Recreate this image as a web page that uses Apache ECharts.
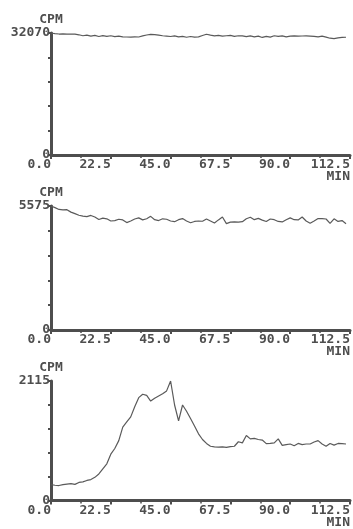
<!DOCTYPE html>
<html>
<head>
<meta charset="utf-8">
<script src="https://cdn.jsdelivr.net/npm/echarts@6/dist/echarts.min.js"></script>
<style>
  html, body { margin: 0; padding: 0; background: #fff; }
  #chart { width: 353px; height: 529px; }
</style>
</head>
<body>
<div id="chart"></div>
<script>
// sample times, minutes
const minutes = [
  0, 1.5, 3, 4.5, 6, 7.5, 9, 10.5, 12, 13.5, 15, 16.5, 18, 19.5, 21,
  22.5, 24, 25.5, 27, 28.5, 30, 31.5, 33, 34.5, 36, 37.5, 39, 40.5, 42, 43.5,
  45, 46.5, 48, 49.5, 51, 52.5, 54, 55.5, 57, 58.5, 60, 61.5, 63, 64.5, 66,
  67.5, 69, 70.5, 72, 73.5, 75, 76.5, 78, 79.5, 81, 82.5, 84, 85.5, 87, 88.5,
  90, 91.5, 93, 94.5, 96, 97.5, 99, 100.5, 102, 103.5, 105, 106.5, 108, 109.5, 111
];

// counts per minute, one list per panel
const cpmTop = [
  32070, 31900, 31800, 31820, 31780, 31800, 31750, 31600, 31350, 31500, 31250, 31450, 31150, 31400, 31200,
  31350, 31100, 31250, 31050, 31020, 31000, 31050, 31020, 31300, 31550, 31700, 31650, 31500, 31350, 31250,
  31150, 31300, 31050, 31200, 30950, 31150, 31000, 31050, 31400, 31750, 31500, 31300, 31450, 31250, 31350,
  31450, 31200, 31350, 31300, 31100, 31300, 31050, 31250, 30900, 31200, 31000, 31350, 31200, 31300, 31050,
  31250, 31300, 31250, 31280, 31300, 31250, 31200, 31050, 31250, 31000, 30700, 30600, 30800, 30900, 30950
];
const cpmMid = [
  5575, 5500, 5420, 5400, 5410, 5300, 5230, 5160, 5120, 5100, 5150, 5080, 4970, 5030, 5000,
  4900, 4920, 4980, 4950, 4830, 4900, 4990, 5040, 4950, 5000, 5110, 4960, 4920, 5000, 4980,
  4900, 4870, 4960, 5010, 4900, 4820, 4880, 4900, 4890, 4990, 4900, 4810, 4950, 5080, 4780,
  4850, 4860, 4850, 4870, 5000, 5070, 4960, 5020, 4940, 4880, 4990, 4960, 4880, 4860, 4960,
  5040, 4960, 4950, 5080, 4900, 4800, 4900, 5010, 5010, 4990, 4790, 5000, 4880, 4920, 4780
];
const cpmLow = [
  280, 270, 265, 280, 290, 300, 285, 320, 330, 355, 370, 410, 470, 560, 650,
  820, 920, 1060, 1300, 1390, 1480, 1660, 1820, 1880, 1860, 1760, 1810, 1850, 1890, 1940,
  2115, 1690, 1410, 1690, 1580, 1450, 1320, 1180, 1080, 1010, 960, 950, 945, 950, 940,
  955, 960, 1040, 1020, 1150, 1090, 1100, 1080, 1070, 1006, 1010, 1020, 1090, 976, 990,
  1000, 970, 1010, 990, 1000, 1000, 1035, 1060, 1000, 959, 1010, 980, 1010, 1006, 1000
];

const yMax = [32070, 5575, 2115];
const xTickLabels = ['0.0', '22.5', '45.0', '67.5', '90.0', '112.5'];
const panels = [cpmTop, cpmMid, cpmLow];

const ink = '#4e4e4e';
const font = { fontFamily: 'DejaVu Sans Mono', fontSize: 13, fontWeight: 'bold', color: ink };
const gridTops = [33, 206, 381];
const gridHeights = [122, 124, 122];

const chart = echarts.init(document.getElementById('chart'), null, { renderer: 'canvas' });

chart.setOption({
  backgroundColor: '#ffffff',
  animation: false,
  grid: gridTops.map((top, k) => ({ left: 51, right: 2, top: top, height: gridHeights[k] })),
  xAxis: panels.map((_, k) => ({
    gridIndex: k,
    type: 'value',
    min: 0,
    max: 112.5,
    interval: 22.5,
    axisLine: { show: true, lineStyle: { color: ink, width: 3 } },
    axisTick: { show: true, length: 4, lineStyle: { color: ink, width: 2 } },
    minorTick: { show: true, splitNumber: 2, length: 3, lineStyle: { color: ink, width: 1.5 } },
    splitLine: { show: false },
    axisLabel: {
      ...font,
      align: 'right',
      margin: 4,
      lineHeight: 12,
      formatter: (v, i) => (i === xTickLabels.length - 1 ? xTickLabels[i] + '\nMIN' : xTickLabels[i])
    }
  })),
  yAxis: panels.map((_, k) => ({
    gridIndex: k,
    type: 'value',
    min: 0,
    max: yMax[k],
    interval: yMax[k] / 5,
    name: 'CPM',
    nameLocation: 'end',
    nameGap: 7,
    nameTextStyle: { ...font, align: 'center' },
    axisLine: { show: true, lineStyle: { color: ink, width: 3 } },
    axisTick: { show: true, length: 3, lineStyle: { color: ink, width: 2 } },
    splitLine: { show: false },
    axisLabel: {
      ...font,
      margin: 1,
      formatter: (v) => (v === 0 || v === yMax[k] ? String(v) : '')
    }
  })),
  series: panels.map((vals, k) => ({
    type: 'line',
    xAxisIndex: k,
    yAxisIndex: k,
    showSymbol: false,
    lineStyle: { color: '#5a5a5a', width: 1.2 },
    data: minutes.map((t, i) => [t, vals[i]])
  }))
});
</script>
</body>
</html>
